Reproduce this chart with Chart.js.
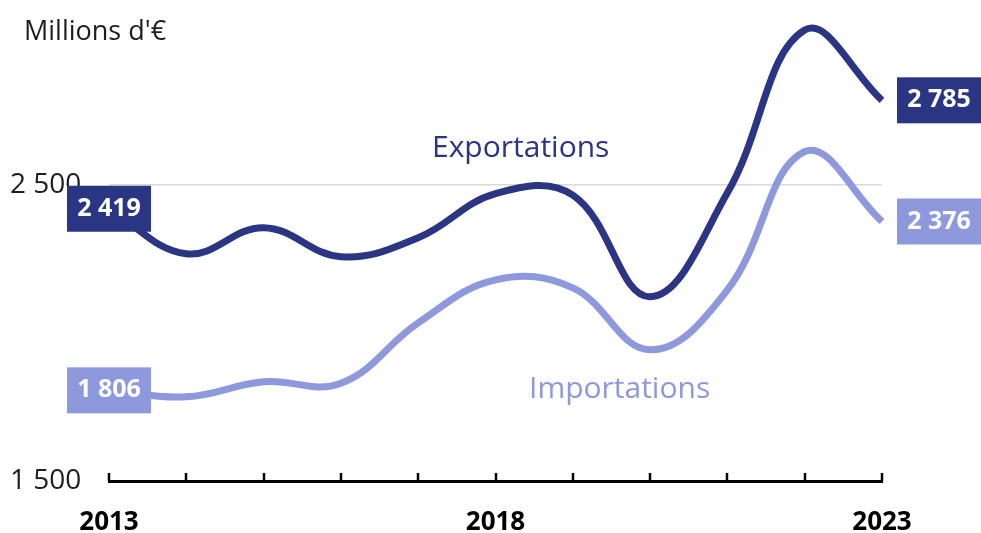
<!DOCTYPE html>
<html lang="fr">
<head>
<meta charset="utf-8">
<title>Exportations et importations</title>
<script src="https://cdn.jsdelivr.net/npm/chart.js@4/dist/chart.umd.min.js"></script>
<style>
  html, body { margin: 0; padding: 0; background: #ffffff; }
</style>
</head>
<body>
<canvas id="chart" width="981" height="533"></canvas>
<script>
// Années (axe horizontal)
const years = ['2013', '2014', '2015', '2016', '2017', '2018', '2019', '2020', '2021', '2022', '2023'];
// Années dont le libellé est affiché
const shownYears = ['2013', '2018', '2023'];
// Valeurs en millions d'euros
const exportations = [2419, 2267, 2355, 2257, 2321, 2470, 2465, 2122, 2473, 3022, 2785];
const importations = [1806, 1784, 1835, 1830, 2034, 2179, 2152, 1943, 2145, 2612, 2376];
// Graduations de l'axe vertical
const yTicks = [1500, 2500];
const unitLabel = "Millions d'€";

const darkBlue = '#2a3583';
const lightBlue = '#8d98dd';
const fontFamily = '"Open Sans", "Noto Sans", sans-serif';

function fmt(v) {
  return String(Math.round(v)).replace(/\B(?=(\d{3})+(?!\d))/g, ' ');
}

// Petits traits de graduation dirigés vers le haut depuis l'axe
const upTicks = {
  id: 'upTicks',
  afterDraw(chart) {
    const { ctx, scales: { x }, chartArea } = chart;
    ctx.save();
    ctx.strokeStyle = '#000000';
    ctx.lineWidth = 2.5;
    years.forEach((y, i) => {
      const px = Math.round(x.getPixelForValue(i));
      ctx.beginPath();
      ctx.moveTo(px, chartArea.bottom);
      ctx.lineTo(px, chartArea.bottom - 8);
      ctx.stroke();
    });
    ctx.restore();
  }
};

// Étiquettes de valeur en début et fin de courbe, noms des séries et unité
const valueLabels = {
  id: 'valueLabels',
  afterDatasetsDraw(chart) {
    const { ctx } = chart;
    const boxW = 84, boxH = 46, gap = 15;
    ctx.save();
    ctx.font = 'bold 25px ' + fontFamily;
    ctx.textAlign = 'center';
    ctx.textBaseline = 'middle';
    chart.data.datasets.forEach((ds, di) => {
      const pts = chart.getDatasetMeta(di).data;
      const first = pts[0], last = pts[pts.length - 1];
      const vFirst = ds.data[0], vLast = ds.data[ds.data.length - 1];
      ctx.fillStyle = ds.borderColor;
      ctx.fillRect(first.x - boxW / 2, first.y - boxH / 2, boxW, boxH);
      ctx.fillRect(last.x + gap, last.y - boxH / 2, boxW, boxH);
      ctx.fillStyle = '#ffffff';
      ctx.fillText(fmt(vFirst), first.x, first.y);
      ctx.fillText(fmt(vLast), last.x + gap + boxW / 2, last.y);
    });
    // Noms des séries
    ctx.font = '30px ' + fontFamily;
    ctx.textAlign = 'left';
    ctx.textBaseline = 'alphabetic';
    ctx.fillStyle = darkBlue;
    ctx.fillText('Exportations', 432, 157);
    ctx.fillStyle = lightBlue;
    ctx.fillText('Importations', 529, 398);
    // Unité
    ctx.font = '27px ' + fontFamily;
    ctx.fillStyle = '#1e1e1e';
    ctx.fillText(unitLabel, 24, 40);
    ctx.restore();
  }
};

new Chart(document.getElementById('chart'), {
  type: 'line',
  data: {
    labels: years,
    datasets: [
      { label: 'Exportations', data: exportations, borderColor: darkBlue, backgroundColor: darkBlue,
        borderWidth: 7, tension: 0.4, pointRadius: 0, fill: false, borderCapStyle: 'butt' },
      { label: 'Importations', data: importations, borderColor: lightBlue, backgroundColor: lightBlue,
        borderWidth: 7, tension: 0.4, pointRadius: 0, fill: false, borderCapStyle: 'butt' }
    ]
  },
  options: {
    responsive: false,
    devicePixelRatio: 1,
    animation: false,
    layout: { padding: { top: 7, left: 10, right: 99, bottom: 0 } },
    plugins: { legend: { display: false }, tooltip: { enabled: false }, title: { display: false } },
    scales: {
      x: {
        type: 'category',
        offset: false,
        grid: { display: false },
        border: { display: true, color: '#000000', width: 3 },
        ticks: {
          autoSkip: false,
          maxRotation: 0,
          padding: 18,
          color: '#000000',
          font: { family: fontFamily, size: 26, weight: 'bold' },
          callback(value) {
            const lab = this.getLabelForValue(value);
            return shownYears.includes(lab) ? lab : '';
          }
        },
        afterFit(scale) { scale.height = 52; }
      },
      y: {
        min: 1500,
        max: 3100,
        border: { display: false },
        grid: {
          drawTicks: false,
          lineWidth: 1.5,
          color(ctx) { return ctx.tick && ctx.tick.value === 2500 ? '#d9d9d9' : 'rgba(0,0,0,0)'; }
        },
        afterBuildTicks(scale) { scale.ticks = yTicks.map(v => ({ value: v })); },
        afterFit(scale) { scale.width = 99; },
        ticks: {
          crossAlign: 'far',
          padding: 0,
          color: '#1e1e1e',
          font: { family: fontFamily, size: 28, lineHeight: 0.5 },
          callback(value) { return fmt(value); }
        }
      }
    }
  },
  plugins: [upTicks, valueLabels]
});
</script>
</body>
</html>
